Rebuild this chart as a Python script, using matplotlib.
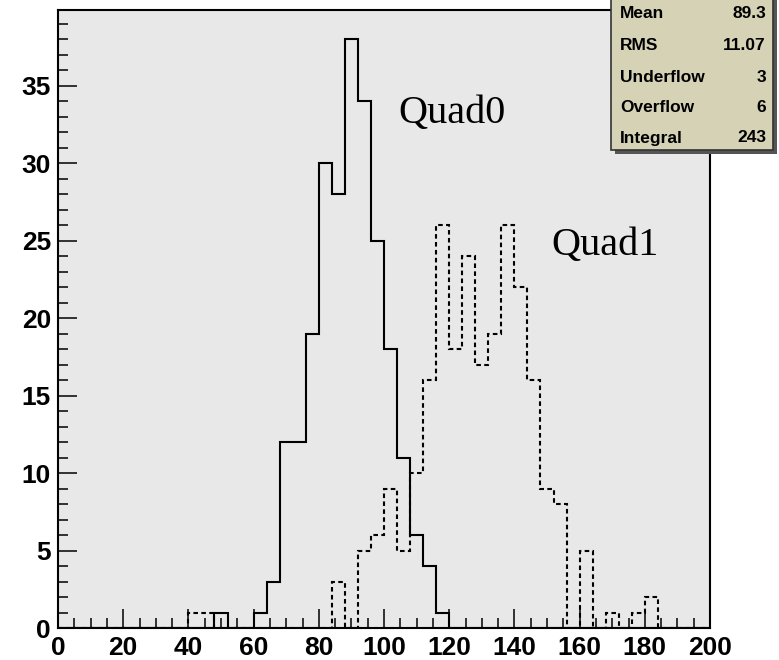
import numpy as np
import matplotlib.pyplot as plt
from matplotlib.patches import Rectangle

# 直方图数据（每个bin宽度为4，范围0-200）
bin_edges = np.arange(0, 204, 4)

quad0_counts = [0, 0, 0, 0, 0, 0, 0, 0, 0, 0,
                0, 0, 1, 0, 0, 1, 3, 12, 12, 19,
                30, 28, 38, 34, 25, 18, 11, 6, 4, 1,
                0, 0, 0, 0, 0, 0, 0, 0, 0, 0,
                0, 0, 0, 0, 0, 0, 0, 0, 0, 0]

quad1_counts = [0, 0, 0, 0, 0, 0, 0, 0, 0, 0,
                1, 1, 0, 0, 0, 0, 0, 0, 0, 0,
                0, 3, 0, 5, 6, 9, 5, 10, 16, 26,
                18, 24, 17, 19, 26, 22, 16, 9, 8, 0,
                5, 0, 1, 0, 1, 2, 0, 0, 0, 0]

# 统计框内容
stat_names = ['Mean', 'RMS', 'Underflow', 'Overflow', 'Integral']
stat_values = ['89.3', '11.07', '3', '6', '243']

x_ticks = np.arange(0, 201, 20)
y_ticks = np.arange(0, 36, 5)

W, H = 779, 660
fig = plt.figure(figsize=(W / 100, H / 100), dpi=100)
fig.patch.set_facecolor('white')

# 坐标轴位置（像素）
left, right, top, bottom = 58, 710, 10, 628
ax = fig.add_axes([left / W, (H - bottom) / H, (right - left) / W, (bottom - top) / H])
ax.set_facecolor('#e8e8e8')

ax.stairs(quad0_counts, bin_edges, color='black', linewidth=1.5)
ax.stairs(quad1_counts, bin_edges, color='black', linewidth=1.5, linestyle=(0, (2.2, 1.6)))

ax.set_xlim(0, 200)
ax.set_ylim(0, 39.9)

ax.set_xticks(x_ticks)
ax.set_xticks(np.arange(0, 201, 5), minor=True)
ax.set_yticks(y_ticks)
ax.set_yticks(np.arange(0, 40, 1), minor=True)

tick_font = {'family': 'Liberation Sans', 'weight': 'bold', 'size': 19}
ax.set_xticklabels([str(v) for v in x_ticks], fontdict=tick_font)
ax.set_yticklabels([str(v) for v in y_ticks], fontdict=tick_font)

ax.tick_params(which='major', direction='in', length=14, width=1.1, color='black', pad=5)
ax.tick_params(which='minor', direction='in', length=7, width=1.1, color='black')
ax.tick_params(axis='x', which='major', pad=6)
for s in ax.spines.values():
    s.set_linewidth(1.5)

# 标签
ax.text(104.3, 32.6, 'Quad0', family='Liberation Serif', fontsize=29, va='baseline', ha='left')
ax.text(151.2, 24.1, 'Quad1', family='Liberation Serif', fontsize=29, va='baseline', ha='left')

# 统计框（ROOT风格，带阴影）
bx0, bx1, by0, by1 = 611, 773, -5, 150
fig.add_artist(Rectangle(((bx0 + 4) / W, (H - by1 - 4) / H), (bx1 - bx0) / W, (by1 - by0) / H,
                         transform=fig.transFigure, facecolor='#555555', edgecolor='none', zorder=5))
fig.add_artist(Rectangle((bx0 / W, (H - by1) / H), (bx1 - bx0) / W, (by1 - by0) / H,
                         transform=fig.transFigure, facecolor='#d6d2b6', edgecolor='#333333',
                         linewidth=1.2, zorder=6))
row_y = [13, 45, 77, 107, 138]
for name, val, yy in zip(stat_names, stat_values, row_y):
    fig.text(620 / W, (H - yy) / H, name, family='Liberation Sans', weight='bold', fontsize=12.5,
             va='center', ha='left', zorder=7)
    fig.text(766 / W, (H - yy) / H, val, family='Liberation Sans', weight='bold', fontsize=12.5,
             va='center', ha='right', zorder=7)

fig.savefig('out.png', dpi=100)
